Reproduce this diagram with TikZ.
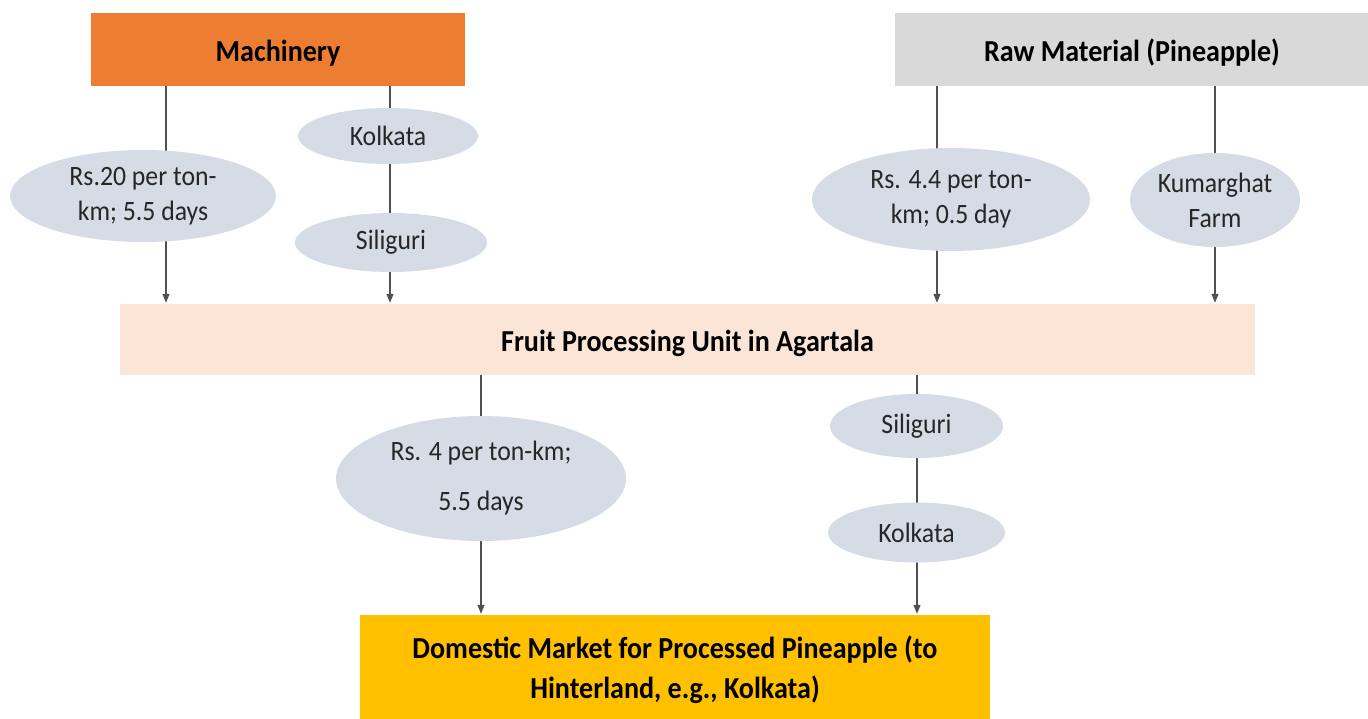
\documentclass[tikz,border=0pt]{standalone}
\usepackage{fontspec}
\setmainfont[FakeStretch=0.92]{Carlito}
\usetikzlibrary{arrows.meta,shapes.geometric}
\definecolor{orangeC}{HTML}{ED7D31}
\definecolor{grayC}{HTML}{D9D9D9}
\definecolor{peachC}{HTML}{FBE5D6}
\definecolor{goldC}{HTML}{FFC000}
\definecolor{ellC}{HTML}{D6DCE5}
\definecolor{lineC}{HTML}{505050}
\definecolor{txtC}{HTML}{262626}
\begin{document}
\begin{tikzpicture}[x=1pt,y=-1pt,
  boxst/.style={rectangle,inner sep=0pt,align=center,text=black,
    font=\fontsize{30.5}{40}\selectfont\bfseries},
  onel/.style={text height=29pt,text depth=6pt},
  ellst/.style={ellipse,fill=ellC,inner sep=0pt,align=center,text=txtC,
    font=\fontsize{28}{35}\selectfont},
  arr/.style={draw=lineC,line width=1.1pt,-{Triangle[length=9pt,width=7pt]},shorten >=1pt}]
\useasboundingbox (0,0) rectangle (1368,718);
% boxes
\node[boxst,onel,fill=orangeC,minimum width=374pt,minimum height=73pt] (mach) at (278,49.5) {Machinery};
\node[boxst,onel,fill=grayC,minimum width=474pt,minimum height=73pt] (raw) at (1132,49.5) {Raw Material (Pineapple)};
\node[boxst,onel,fill=peachC,minimum width=1135pt,minimum height=71pt] (fruit) at (687.5,339.5) {Fruit Processing Unit in Agartala};
\node[boxst,fill=goldC,minimum width=630pt,minimum height=104pt,text height=69pt,text depth=6pt] (dom) at (675,667) {Domestic Market for Processed Pineapple (to\\Hinterland, e.g., Kolkata)};
% connectors
\coordinate (xa) at (166,0);
\coordinate (xb) at (390,0);
\coordinate (xc) at (937,0);
\coordinate (xd) at (1215,0);
\coordinate (xe) at (481,0);
\coordinate (xf) at (917,0);
\draw[arr] (mach.south -| xa) -- (fruit.north -| xa);
\draw[arr] (mach.south -| xb) -- (fruit.north -| xb);
\draw[arr] (raw.south -| xc) -- (fruit.north -| xc);
\draw[arr] (raw.south -| xd) -- (fruit.north -| xd);
\draw[arr] (fruit.south -| xe) -- (dom.north -| xe);
\draw[arr] (fruit.south -| xf) -- (dom.north -| xf);
% ellipses
\node[ellst,minimum width=266pt,minimum height=92pt] (e1) at (143,196) {Rs.20 per ton-\\km; 5.5 days};
\node[ellst,minimum width=180pt,minimum height=56pt] (k1) at (388,136) {Kolkata};
\node[ellst,minimum width=192pt,minimum height=59pt] (s1) at (391,242.5) {Siliguri};
\node[ellst,minimum width=278pt,minimum height=103pt] (e2) at (951,199.5) {Rs. 4.4 per ton-\\km; 0.5 day};
\node[ellst,minimum width=170pt,minimum height=94pt] (kf) at (1215,200) {Kumarghat\\Farm};
\node[ellst,minimum width=290pt,minimum height=125pt,font=\fontsize{28}{50}\selectfont] (e3) at (481,478.5) {Rs. 4 per ton-km;\\5.5 days};
\node[ellst,minimum width=173pt,minimum height=64pt] (s2) at (916.5,426) {Siliguri};
\node[ellst,minimum width=177pt,minimum height=60pt] (k2) at (916.5,532.5) {Kolkata};
\end{tikzpicture}
\end{document}
